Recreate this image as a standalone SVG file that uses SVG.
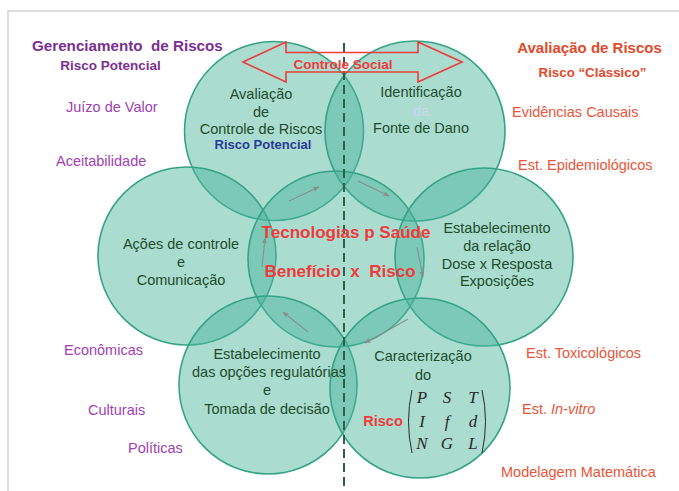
<svg xmlns="http://www.w3.org/2000/svg" width="679" height="491" viewBox="0 0 679 491">
<defs>
<style>
.c{fill:#4ab49b;fill-opacity:0.47;stroke:#36a386;stroke-width:1.6}
.t{font-family:"Liberation Sans",Arial,sans-serif;font-size:14.5px;fill:#1e4d2b;text-anchor:middle}
.pl{font-family:"Liberation Sans",Arial,sans-serif;font-size:14.5px;fill:#a03fb4}
.ph{font-family:"Liberation Sans",Arial,sans-serif;font-weight:bold;fill:#7a2f91}
.ol{font-family:"Liberation Sans",Arial,sans-serif;font-size:14.5px;fill:#e8553a}
.oh{font-family:"Liberation Sans",Arial,sans-serif;font-weight:bold;fill:#e04a2a}
.red{font-family:"Liberation Sans",Arial,sans-serif;font-weight:bold;fill:#f03a3a}
.m{font-family:"Liberation Serif","Times New Roman",serif;font-style:italic;font-size:17px;fill:#2a2a2a;text-anchor:middle}
.ar{stroke:#8a8f8c;stroke-width:1.1;fill:none;marker-end:url(#ah)}
</style>
<marker id="ah" viewBox="0 0 10 10" refX="9" refY="5" markerWidth="6" markerHeight="6" orient="auto" markerUnits="userSpaceOnUse">
<path d="M0,1 L10,5 L0,9 z" fill="#8a8f8c"/>
</marker>
</defs>
<rect x="0" y="0" width="679" height="491" fill="#ffffff"/>
<rect x="8" y="11" width="700" height="500" fill="none" stroke="#c8c8c8" stroke-width="1.2"/>

<g id="circles">
<circle id="c-topleft" class="c" cx="274" cy="131" r="89.5"/>
<circle id="c-topright" class="c" cx="415" cy="131" r="90"/>
<circle id="c-midleft" class="c" cx="187" cy="256" r="89"/>
<circle id="c-center" class="c" cx="336" cy="259" r="88"/>
<circle id="c-midright" class="c" cx="484" cy="257" r="89"/>
<circle id="c-botleft" class="c" cx="268" cy="385" r="89"/>
<circle id="c-botright" class="c" cx="420" cy="388" r="90"/>
</g>

<g id="connectors">
<line x1="344" y1="43" x2="344" y2="491" stroke="#2f5f47" stroke-width="2" stroke-dasharray="9,5"/>
<path class="ar" d="M289,201 L319,187"/>
<path class="ar" d="M358,181 L389,196"/>
<path class="ar" d="M417,247 L423,277"/>
<path class="ar" d="M408,319 L365,343"/>
<path class="ar" d="M308,332 L283,312"/>
<path class="ar" d="M262,267 L265,238"/>
</g>

<g id="controle-social">
<path d="M243,62 L286,42 L286,52.5 L418,52.5 L418,42 L462,62 L418,82 L418,72 L286,72 L286,82 Z" fill="none" stroke="#ee3b3b" stroke-width="1.6" stroke-linejoin="miter"/>
<text class="red" x="343" y="68.5" font-size="13.5" text-anchor="middle">Controle Social</text>
</g>

<g id="left-labels">
<text class="ph" x="32" y="51" font-size="15.2" xml:space="preserve">Gerenciamento  de Riscos</text>
<text class="ph" x="110.5" y="70" font-size="13.5" text-anchor="middle">Risco Potencial</text>
<text class="pl" x="66" y="112">Juízo de Valor</text>
<text class="pl" x="56" y="166">Aceitabilidade</text>
<text class="pl" x="64" y="355">Econômicas</text>
<text class="pl" x="88" y="415">Culturais</text>
<text class="pl" x="128" y="453">Políticas</text>
</g>

<g id="right-labels">
<text class="oh" x="589.5" y="53" font-size="15" text-anchor="middle">Avaliação de Riscos</text>
<text class="oh" x="592.5" y="77" font-size="13.3" text-anchor="middle">Risco “Clássico”</text>
<text class="ol" x="512" y="117">Evidências Causais</text>
<text class="ol" x="518" y="170">Est. Epidemiológicos</text>
<text class="ol" x="526" y="358">Est. Toxicológicos</text>
<text class="ol" x="522" y="414">Est. <tspan font-style="italic">In-vitro</tspan></text>
<text class="ol" x="501" y="477">Modelagem Matemática</text>
</g>

<g id="n-avaliacao">
<text class="t" x="261" y="99">Avaliação</text>
<text class="t" x="261" y="117">de</text>
<text class="t" x="261" y="134">Controle de Riscos</text>
<text class="red" x="263" y="149" font-size="13" style="fill:#2b3a9a" text-anchor="middle">Risco Potencial</text>
</g>

<g id="n-identificacao">
<text class="t" x="421" y="97">Identificação</text>
<text class="t" x="421" y="116" style="fill:#c9d6ee">da</text>
<text class="t" x="421" y="133">Fonte de Dano</text>
</g>

<g id="n-acoes">
<text class="t" x="181" y="249">Ações de controle</text>
<text class="t" x="181" y="267">e</text>
<text class="t" x="181" y="285">Comunicação</text>
</g>

<g id="n-centro">
<text class="red" x="346" y="238" font-size="17" text-anchor="middle">Tecnologias p Saúde</text>
<text class="red" x="340" y="277" font-size="17" text-anchor="middle" xml:space="preserve">Benefício  x  Risco</text>
</g>

<g id="n-dose">
<text class="t" x="497" y="233">Estabelecimento</text>
<text class="t" x="497" y="251">da relação</text>
<text class="t" x="497" y="269">Dose x Resposta</text>
<text class="t" x="497" y="286">Exposições</text>
</g>

<g id="n-opcoes">
<text class="t" x="267" y="359">Estabelecimento</text>
<text class="t" x="269" y="377">das opções regulatórias</text>
<text class="t" x="267" y="395">e</text>
<text class="t" x="267" y="414">Tomada de decisão</text>
</g>

<g id="n-caracterizacao">
<text class="t" x="423" y="361">Caracterização</text>
<text class="t" x="423" y="380">do</text>
<text class="red" x="383" y="426" font-size="14.5" text-anchor="middle">Risco</text>
<path d="M412,390 Q405,421 412,453" fill="none" stroke="#2a2a2a" stroke-width="1"/>
<path d="M482,390 Q489,421 482,453" fill="none" stroke="#2a2a2a" stroke-width="1"/>
<text class="m" x="422" y="403">P</text>
<text class="m" x="447" y="403">S</text>
<text class="m" x="473" y="403">T</text>
<text class="m" x="422" y="427">I</text>
<text class="m" x="447" y="427">f</text>
<text class="m" x="473" y="427">d</text>
<text class="m" x="422" y="449">N</text>
<text class="m" x="447" y="449">G</text>
<text class="m" x="473" y="449">L</text>
</g>
</svg>
